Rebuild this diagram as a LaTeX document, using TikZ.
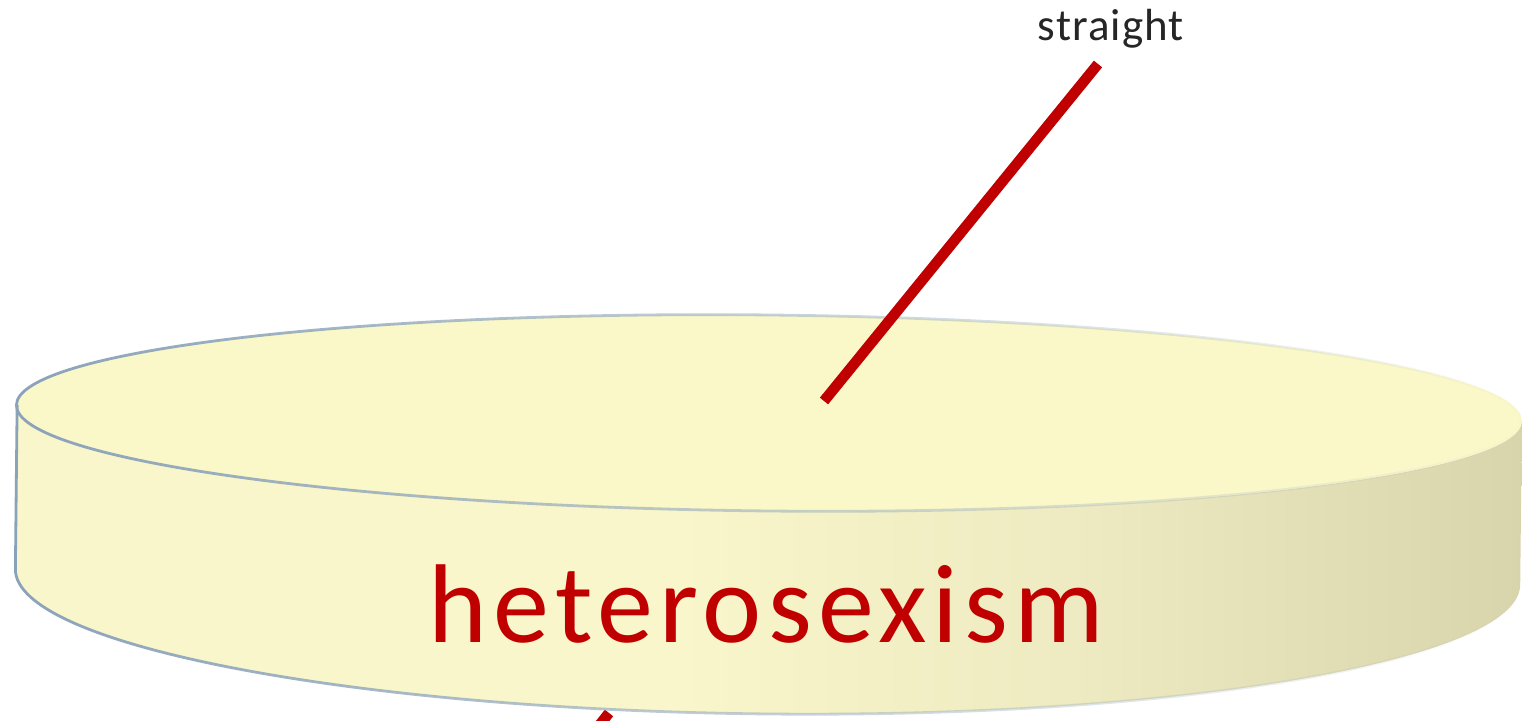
\documentclass[tikz,border=0pt]{standalone}
\usepackage{fontspec}
\setmainfont{Carlito}
\usetikzlibrary{fadings}
\definecolor{redline}{HTML}{C00000}
\definecolor{topfill}{HTML}{FAF7C9}
\definecolor{sideA}{HTML}{F9F6CB}
\definecolor{sideB}{HTML}{EEEAC1}
\definecolor{sideC}{HTML}{D8D4AC}
\definecolor{rim}{HTML}{8AA2BA}
\definecolor{labelgray}{HTML}{262626}
\pgfdeclarehorizontalshading{sideshade}{100bp}{color(0bp)=(sideA); color(25bp)=(sideA); color(47bp)=(sideA); color(60bp)=(sideB); color(75bp)=(sideC); color(100bp)=(sideC)}
\tikzset{
  leader/.style={draw=redline, line width=5.3pt, line cap=butt},
  rimline/.style={draw=rim, line width=1.4pt, path fading=east},
  bigtext/.style={text=redline, inner sep=0pt, font=\fontsize{56}{60}\selectfont\addfontfeature{LetterSpace=5.5}},
  smalltext/.style={text=labelgray, inner sep=0pt, font=\fontsize{22.5}{26}\selectfont\addfontfeature{LetterSpace=2.5}}
}
\begin{document}
\begin{tikzpicture}[x=0.5pt,y=0.5pt]
\useasboundingbox (0,0) rectangle (1522,721);
\clip (0,0) rectangle (1522,721);
% leader below the disc (partly hidden)
\coordinate (b1) at (609,8);
\coordinate (b2) at (590,-16);
\draw[leader] (b1) -- (b2);
% disc
\begin{scope}[shift={(769.5,308)}, rotate=-0.6]
  \shade[shading=sideshade] (-752.5,0) -- (-752.5,-164)
     arc[start angle=180, end angle=360, x radius=752.5, y radius=137]
     -- (752.5,0)
     arc[start angle=0, end angle=-180, x radius=752.5, y radius=98] -- cycle;
  \fill[topfill] (0,0) ellipse [x radius=752.5, y radius=98];
  \path[rimline] (0,0) ellipse [x radius=752.5, y radius=98];
  \path[rimline] (-752.5,0) -- (-752.5,-164)
     arc[start angle=180, end angle=360, x radius=752.5, y radius=137]
     -- (752.5,0);
\end{scope}
% texts
\node[bigtext, anchor=base] (het) at (766.5,78) {heterosexism};
\node[smalltext, anchor=base] (str) at (1111,680) {straight};
% leader from the label to the top of the disc
\coordinate (s1) at (1098,657);
\coordinate (s2) at (824,320);
\draw[leader] (s1) -- (s2);
\end{tikzpicture}
\end{document}
